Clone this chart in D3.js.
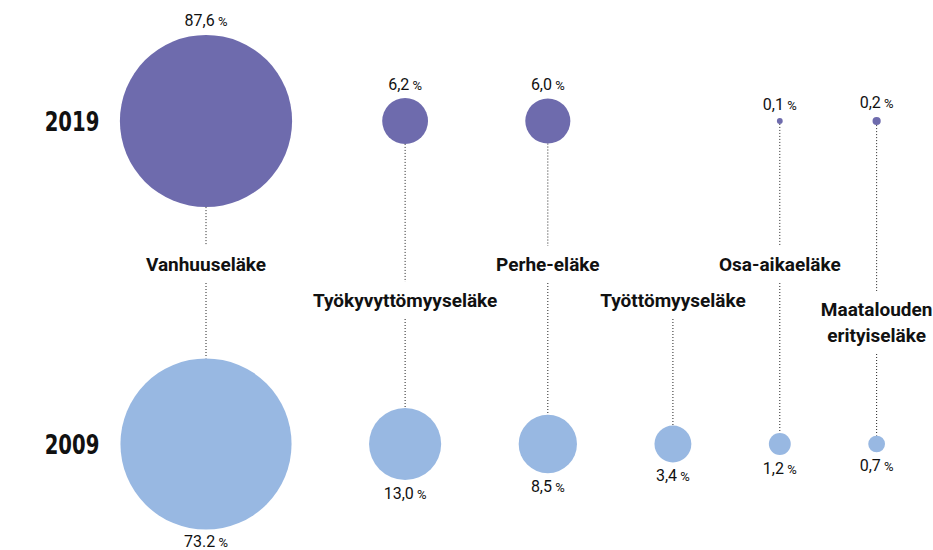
<!DOCTYPE html>
<html lang="fi">
	<head>
		<meta charset="utf-8">
		<title>Eläkkeet 2009 ja 2019</title>
		<script src="https://cdn.jsdelivr.net/npm/d3@7"></script>
		<style>
			body { margin: 0; background: #fff; }
			.num { font-family: Roboto, "DejaVu Sans", sans-serif; font-size: 16px; fill: #111; }
			.pct { font-size: 13px; }
			.cat { font-family: Roboto, "DejaVu Sans", sans-serif; font-weight: bold; font-size: 19px; fill: #111; }
			.year { font-family: "DejaVu Sans Condensed", "DejaVu Sans", sans-serif; font-weight: bold; font-size: 26px; fill: #111; }
		</style>
	</head>
	<body>
		<script>

			//Width and height
			var w = 933;
			var h = 550;

			var categories = ["Vanhuuseläke", "Työkyvyttömyyseläke", "Perhe-eläke",
							  "Työttömyyseläke", "Osa-aikaeläke", "Maatalouden erityiseläke"];
			var years = ["2019", "2009"];
			var values2019 = [87.6, 6.2, 6.0, null, 0.1, 0.2];
			var values2009 = [73.2, 13.0, 8.5, 3.4, 1.2, 0.7];
			var labels2019 = ["87,6", "6,2", "6,0", null, "0,1", "0,2"];
			var labels2009 = ["73.2", "13,0", "8,5", "3,4", "1,2", "0,7"];
			//category names broken onto lines
			var catLines = [["Vanhuuseläke"], ["Työkyvyttömyyseläke"], ["Perhe-eläke"],
							["Työttömyyseläke"], ["Osa-aikaeläke"], ["Maatalouden", "erityiseläke"]];

			var colors = { "2019": "#6e6bad", "2009": "#98b8e2" };

			//area scales, 2019 a bit smaller than 2009
			var r19 = d3.scaleSqrt().domain([0, 100]).range([0, 92]);
			var r09 = d3.scaleSqrt().domain([0, 100]).range([0, 100]);

			//row positions
			var y = d3.scalePoint().domain(years).range([121, 444]);

			//x: circles of 2009 placed side by side with a fixed gap
			var gap = 77.5;
			var xs = [];
			values2009.forEach(function(v, i) {
				if (i == 0) xs.push(206);
				else xs.push(xs[i-1] + r09(values2009[i-1]) + gap + r09(v));
			});

			var data = categories.map(function(c, i) {
				return { cat: c, lines: catLines[i], x: xs[i], i: i,
						 v19: values2019[i], v09: values2009[i],
						 l19: labels2019[i], l09: labels2009[i] };
			});

			var svg = d3.select("body")
						.append("svg")
						.attr("width", w)
						.attr("height", h);

			var lineG = svg.append("g");

			//category labels, alternating upper and lower tier
			var cats = svg.selectAll("text.cat")
				.data(data)
				.enter()
				.append("text")
				.attr("class", "cat")
				.attr("text-anchor", "middle")
				.attr("x", function(d) { return d.x; })
				.attr("y", function(d) { return (d.i % 2 ? 307 : 271) + (d.lines.length > 1 ? 9 : 0); });

			cats.selectAll("tspan")
				.data(function(d) { return d.lines.map(function(l) { return { t: l, x: d.x }; }); })
				.enter()
				.append("tspan")
				.attr("x", function(d) { return d.x; })
				.attr("dy", function(d, j) { return j ? 26 : 0; })
				.text(function(d) { return d.t; });

			//dotted connectors broken around the label
			var pad = 7;
			cats.each(function(d) {
				var b = this.getBBox();
				var segs = [];
				if (d.v19 != null) segs.push([y("2019") + r19(d.v19), b.y - pad]);
				segs.push([b.y + b.height + pad, y("2009") - r09(d.v09)]);
				segs.forEach(function(s) {
					lineG.append("line")
						.attr("x1", d.x).attr("x2", d.x)
						.attr("y1", s[0]).attr("y2", s[1])
						.attr("stroke", "#222")
						.attr("stroke-width", 1)
						.attr("stroke-dasharray", "1,2");
				});
			});

			//circles 2019
			svg.selectAll("circle.c19")
				.data(data.filter(function(d) { return d.v19 != null; }))
				.enter()
				.append("circle")
				.attr("cx", function(d) { return d.x; })
				.attr("cy", y("2019"))
				.attr("r", function(d) { return r19(d.v19); })
				.attr("fill", colors["2019"]);

			//circles 2009
			svg.selectAll("circle.c09")
				.data(data)
				.enter()
				.append("circle")
				.attr("cx", function(d) { return d.x; })
				.attr("cy", y("2009"))
				.attr("r", function(d) { return r09(d.v09); })
				.attr("fill", colors["2009"]);

			//value labels
			function valueLabel(sel, lab) {
				sel.append("tspan").text(lab);
				sel.append("tspan").attr("class", "pct").text(" %");
			}

			svg.selectAll("text.n19")
				.data(data.filter(function(d) { return d.v19 != null; }))
				.enter()
				.append("text")
				.attr("class", "num")
				.attr("text-anchor", "middle")
				.attr("x", function(d) { return d.x; })
				.attr("y", function(d) { return y("2019") - r19(d.v19) - 8.5; })
				.each(function(d) { valueLabel(d3.select(this), d.l19); });

			svg.selectAll("text.n09")
				.data(data)
				.enter()
				.append("text")
				.attr("class", "num")
				.attr("text-anchor", "middle")
				.attr("x", function(d) { return d.x; })
				.attr("y", function(d) { return Math.min(y("2009") + r09(d.v09) + 19, h - 3); })
				.each(function(d) { valueLabel(d3.select(this), d.l09); });

			//year labels, squeezed to a condensed look
			svg.selectAll("text.year")
				.data(years)
				.enter()
				.append("text")
				.attr("class", "year")
				.attr("text-anchor", "middle")
				.attr("transform", function(d) { return "translate(72," + (y(d) + 10) + ") scale(0.84,1)"; })
				.text(function(d) { return d; });

		</script>
	</body>
</html>
